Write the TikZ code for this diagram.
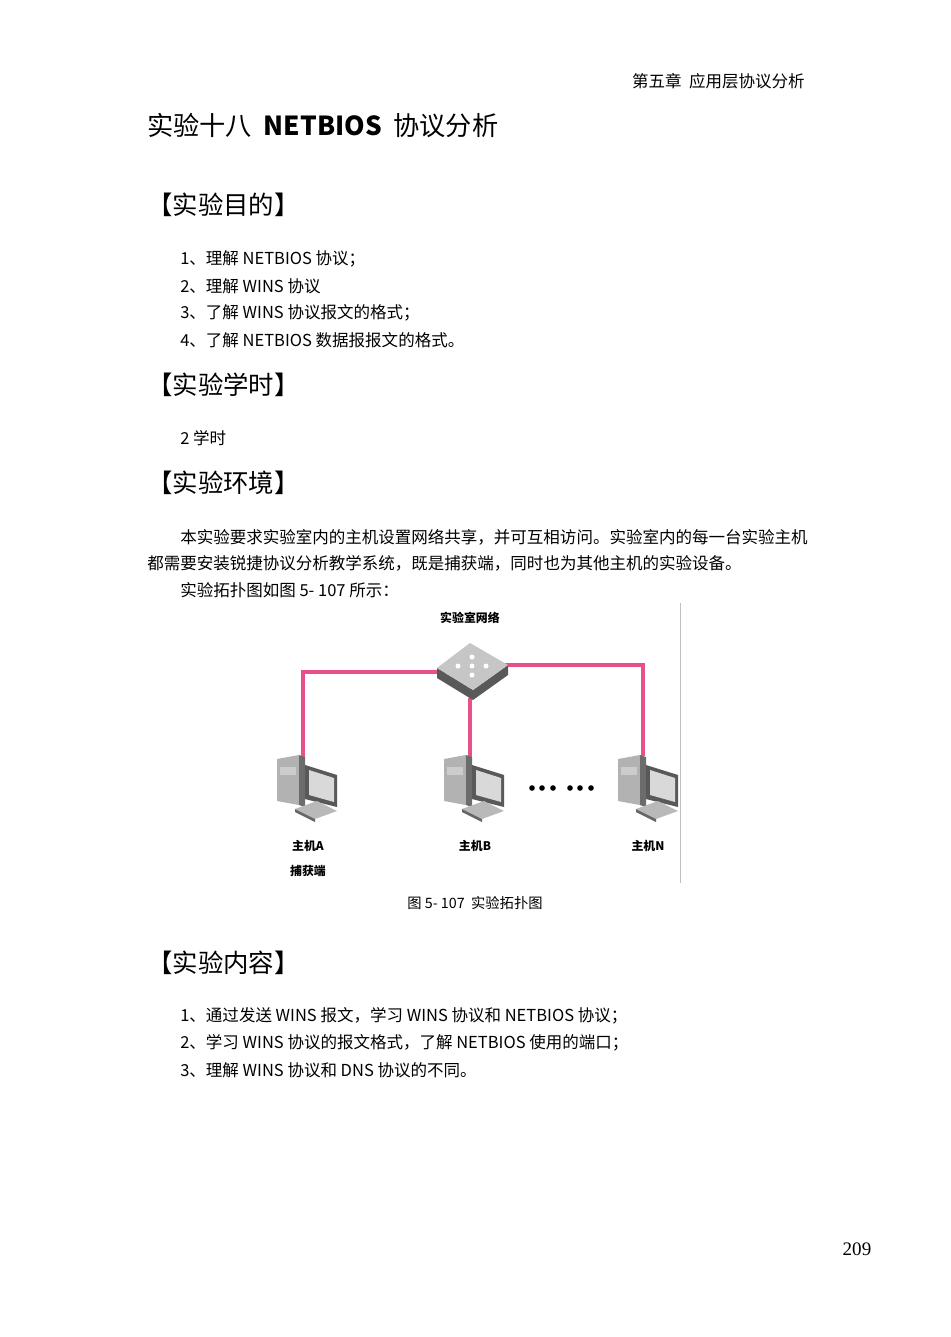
\documentclass[tikz,border=0pt]{standalone}
\usepackage{fontspec}
\setmainfont{Noto Sans CJK SC}
\newfontfamily\numfont{Liberation Serif}
\begin{document}
\begin{tikzpicture}[x=0.63pt,y=-0.63pt,
  body/.style={anchor=west,inner sep=0,font=\fontsize{10.4}{12}\selectfont},
  head/.style={anchor=west,inner sep=0,font=\fontsize{16}{18}\selectfont},
  lbl/.style={inner sep=0,font=\bfseries\fontsize{7.5}{9}\selectfont},
  link/.style={draw={rgb,255:red,232;green,80;blue,140},line width=2pt},
  pc/.pic={
    \fill[gray!60] (-30,-28) -- (-8,-32) -- (-8,18) -- (-30,14) -- cycle;
    \fill[gray!85!black] (-8,-32) -- (-2,-30) -- (-2,20) -- (-8,18) -- cycle;
    \fill[gray!40] (-27,-20) rectangle (-11,-12);
    \fill[gray!70!black] (-2,-22) -- (30,-12) -- (30,20) -- (-2,12) -- cycle;
    \fill[gray!30] (2,-17) -- (27,-9) -- (27,15) -- (2,8) -- cycle;
    \fill[gray!55] (-12,22) -- (10,14) -- (30,24) -- (8,32) -- cycle;
    \fill[gray!80!black] (-12,22) -- (8,32) -- (8,35) -- (-12,25) -- cycle;
  }]
\useasboundingbox (0,0) rectangle (950,1337);
\fill[white] (0,0) rectangle (950,1337);
\node[anchor=east,inner sep=0,font=\fontsize{10.4}{12}\selectfont] (hdr) at (805,81) {第五章\ \ 应用层协议分析};
\node[head,font=\fontsize{16.5}{18}\selectfont] (title) at (147,126) {实验十八\ \ \textbf{NETBIOS}\ \ 协议分析};
\node[head] (h1) at (147,205) {【实验目的】};
\node[body] (a1) at (180,259) {1、理解 NETBIOS 协议；};
\node[body] (a2) at (180,286) {2、理解 WINS 协议};
\node[body] (a3) at (180,313) {3、了解 WINS 协议报文的格式；};
\node[body] (a4) at (180,340) {4、了解 NETBIOS 数据报报文的格式。};
\node[head] (h2) at (147,385) {【实验学时】};
\node[body] (b1) at (180,438) {2 学时};
\node[head] (h3) at (147,483) {【实验环境】};
\node[body] (c1) at (180,537) {本实验要求实验室内的主机设置网络共享，并可互相访问。实验室内的每一台实验主机};
\node[body] (c2) at (147,563) {都需要安装锐捷协议分析教学系统，既是捕获端，同时也为其他主机的实验设备。};
\node[body] (c3) at (180,590) {实验拓扑图如图 5- 107 所示：};
% diagram
\draw[gray!50,line width=0.6pt] (680,603) -- (680,883);
\coordinate (sL) at (445,672);
\coordinate (sR) at (500,665);
\coordinate (sB) at (470,698);
\coordinate (pA) at (303,758);
\coordinate (pB) at (470,758);
\coordinate (pN) at (643,756);
\draw[link] (pA) -- (303,672) -- (sL);
\draw[link] (sB) -- (pB);
\draw[link] (sR) -- (643,665) -- (pN);
% switch
\fill[gray!70!black] (437,668) -- (473,690) -- (508,665) -- (508,675) -- (473,700) -- (437,678) -- cycle;
\fill[gray!45] (437,668) -- (470,643) -- (508,665) -- (473,690) -- cycle;
\foreach \dx/\dy in {-14/0,14/0,0/-9,0/9}{\fill[white] (472+\dx,666+\dy) circle (2.5);}
\fill[white] (472,666) circle (2.5);
\node[lbl] (net) at (470,618) {实验室网络};
\pic at (307,787) {pc};
\pic at (474,787) {pc};
\pic at (648,787) {pc};
\foreach \x in {532,542,553,570,580,591}{\fill (\x,788) circle (2.8);}
\node[lbl] (la) at (308,846) {主机A};
\node[lbl] (lc) at (308,871) {捕获端};
\node[lbl] (lb) at (475,846) {主机B};
\node[lbl] (ln) at (648,846) {主机N};
\node[inner sep=0,font=\fontsize{9}{10}\selectfont] (cap) at (475,903) {图 5- 107\ \ 实验拓扑图};
\node[head] (h4) at (147,963) {【实验内容】};
\node[body] (d1) at (180,1016) {1、通过发送 WINS 报文，学习 WINS 协议和 NETBIOS 协议；};
\node[body] (d2) at (180,1043) {2、学习 WINS 协议的报文格式，了解 NETBIOS 使用的端口；};
\node[body] (d3) at (180,1070) {3、理解 WINS 协议和 DNS 协议的不同。};
\node[inner sep=0,font=\numfont\fontsize{12}{14}\selectfont] (pg) at (857,1249) {209};
\end{tikzpicture}
\end{document}
